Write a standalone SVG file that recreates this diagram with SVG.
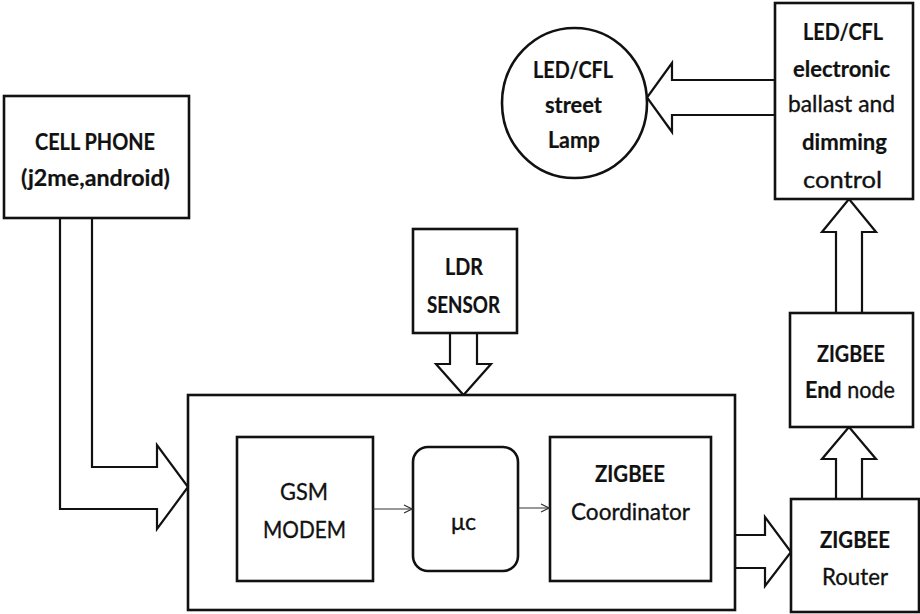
<svg xmlns="http://www.w3.org/2000/svg" width="920" height="614" viewBox="0 0 920 614">
  <style>
    .box { fill: #fff; stroke: #111; stroke-width: 2.6; }
    .flow { fill: #fff; stroke: #111; stroke-width: 2.2; stroke-linejoin: miter; }
    .thin { fill: none; stroke: #333; stroke-width: 1; }
    text { font-family: Lato, "Liberation Sans", sans-serif; font-size: 23.5px; fill: #111; text-anchor: middle; stroke: #111; stroke-width: 0.35; }
    .b { font-weight: bold; stroke-width: 0.2; }
  </style>
  <defs>
    <marker id="open" viewBox="0 0 10 10" refX="9" refY="5" markerWidth="10" markerHeight="10" markerUnits="userSpaceOnUse" orient="auto">
      <path d="M1,1 L9,5 L1,9" fill="none" stroke="#333" stroke-width="1.2"/>
    </marker>
  </defs>

  <rect width="920" height="614" fill="#fff"/>

  <!-- hollow block arrows -->
  <g id="connectors">
    <polygon class="flow" points="60,218 60,509 157,509 157,529 188,487 157,445 157,467 92,467 92,218"/>
    <polygon class="flow" points="450,333 450,364 436,364 463.5,395 491,364 477,364 477,333"/>
    <polygon class="flow" points="735,535 765,535 765,517 791,552 765,586 765,568 735,568"/>
    <polygon class="flow" points="836,499 836,459 822,459 849,427 876,459 862,459 862,499"/>
    <polygon class="flow" points="836,313 836,232 822,232 849,199 876,232 862,232 862,313"/>
    <polygon class="flow" points="775,80 672,80 672,63 647,97.5 672,132 672,115 775,115"/>
  </g>

  <g id="cell-phone">
    <rect class="box" x="4" y="96" width="185" height="122"/>
    <text class="b" x="95" y="150" textLength="120" lengthAdjust="spacingAndGlyphs">CELL PHONE</text>
    <text class="b" x="95.5" y="186" textLength="149" lengthAdjust="spacingAndGlyphs">(j2me,android)</text>
  </g>

  <g id="ldr-sensor">
    <rect class="box" x="413" y="229" width="104" height="104"/>
    <text class="b" x="464" y="275" textLength="38" lengthAdjust="spacingAndGlyphs">LDR</text>
    <text class="b" x="463.5" y="313" textLength="73" lengthAdjust="spacingAndGlyphs">SENSOR</text>
  </g>

  <g id="controller-unit">
    <rect class="box" x="188" y="395" width="547" height="215" stroke-width="3"/>
  </g>

  <g id="gsm-modem">
    <rect class="box" x="237" y="437" width="136" height="144"/>
    <text x="304" y="500" textLength="48" lengthAdjust="spacingAndGlyphs">GSM</text>
    <text x="304.5" y="538" textLength="83" lengthAdjust="spacingAndGlyphs">MODEM</text>
  </g>

  <g id="microcontroller">
    <rect class="box" x="413" y="447" width="105" height="124" rx="15" ry="15"/>
    <text x="463.5" y="530" textLength="25" lengthAdjust="spacingAndGlyphs">μc</text>
  </g>

  <g id="zigbee-coordinator">
    <rect class="box" x="550" y="437" width="161" height="144"/>
    <text class="b" x="630" y="482" textLength="70" lengthAdjust="spacingAndGlyphs">ZIGBEE</text>
    <text x="630.5" y="520" textLength="119" lengthAdjust="spacingAndGlyphs">Coordinator</text>
  </g>

  <!-- thin signal links inside the controller unit -->
  <g id="links">
    <line class="thin" x1="373" y1="509" x2="412" y2="509" marker-end="url(#open)"/>
    <line class="thin" x1="518" y1="508" x2="549" y2="508" marker-end="url(#open)"/>
  </g>

  <g id="zigbee-router">
    <rect class="box" x="791" y="499" width="128" height="113"/>
    <text class="b" x="855" y="548" textLength="70" lengthAdjust="spacingAndGlyphs">ZIGBEE</text>
    <text x="855" y="585" textLength="66" lengthAdjust="spacingAndGlyphs">Router</text>
  </g>

  <g id="zigbee-end-node">
    <rect class="box" x="790" y="313" width="123" height="114"/>
    <text class="b" x="851" y="362" textLength="68" lengthAdjust="spacingAndGlyphs">ZIGBEE</text>
    <text x="850" y="398" textLength="90" lengthAdjust="spacingAndGlyphs"><tspan class="b">End</tspan> node</text>
  </g>

  <g id="ballast-control">
    <rect class="box" x="775" y="3" width="138" height="196"/>
    <text class="b" x="843" y="40" textLength="80" lengthAdjust="spacingAndGlyphs">LED/CFL</text>
    <text class="b" x="841.5" y="77" textLength="97" lengthAdjust="spacingAndGlyphs">electronic</text>
    <text x="841.5" y="112" textLength="107" lengthAdjust="spacingAndGlyphs">ballast and</text>
    <text class="b" x="844.5" y="150" textLength="85" lengthAdjust="spacingAndGlyphs">dimming</text>
    <text x="842.5" y="188" textLength="79" lengthAdjust="spacingAndGlyphs">control</text>
  </g>

  <g id="street-lamp">
    <ellipse class="box" cx="574.5" cy="103" rx="72.5" ry="75"/>
    <text class="b" x="573" y="78" textLength="80" lengthAdjust="spacingAndGlyphs">LED/CFL</text>
    <text class="b" x="573.5" y="113" textLength="57" lengthAdjust="spacingAndGlyphs">street</text>
    <text class="b" x="574" y="148" textLength="52" lengthAdjust="spacingAndGlyphs">Lamp</text>
  </g>
</svg>
